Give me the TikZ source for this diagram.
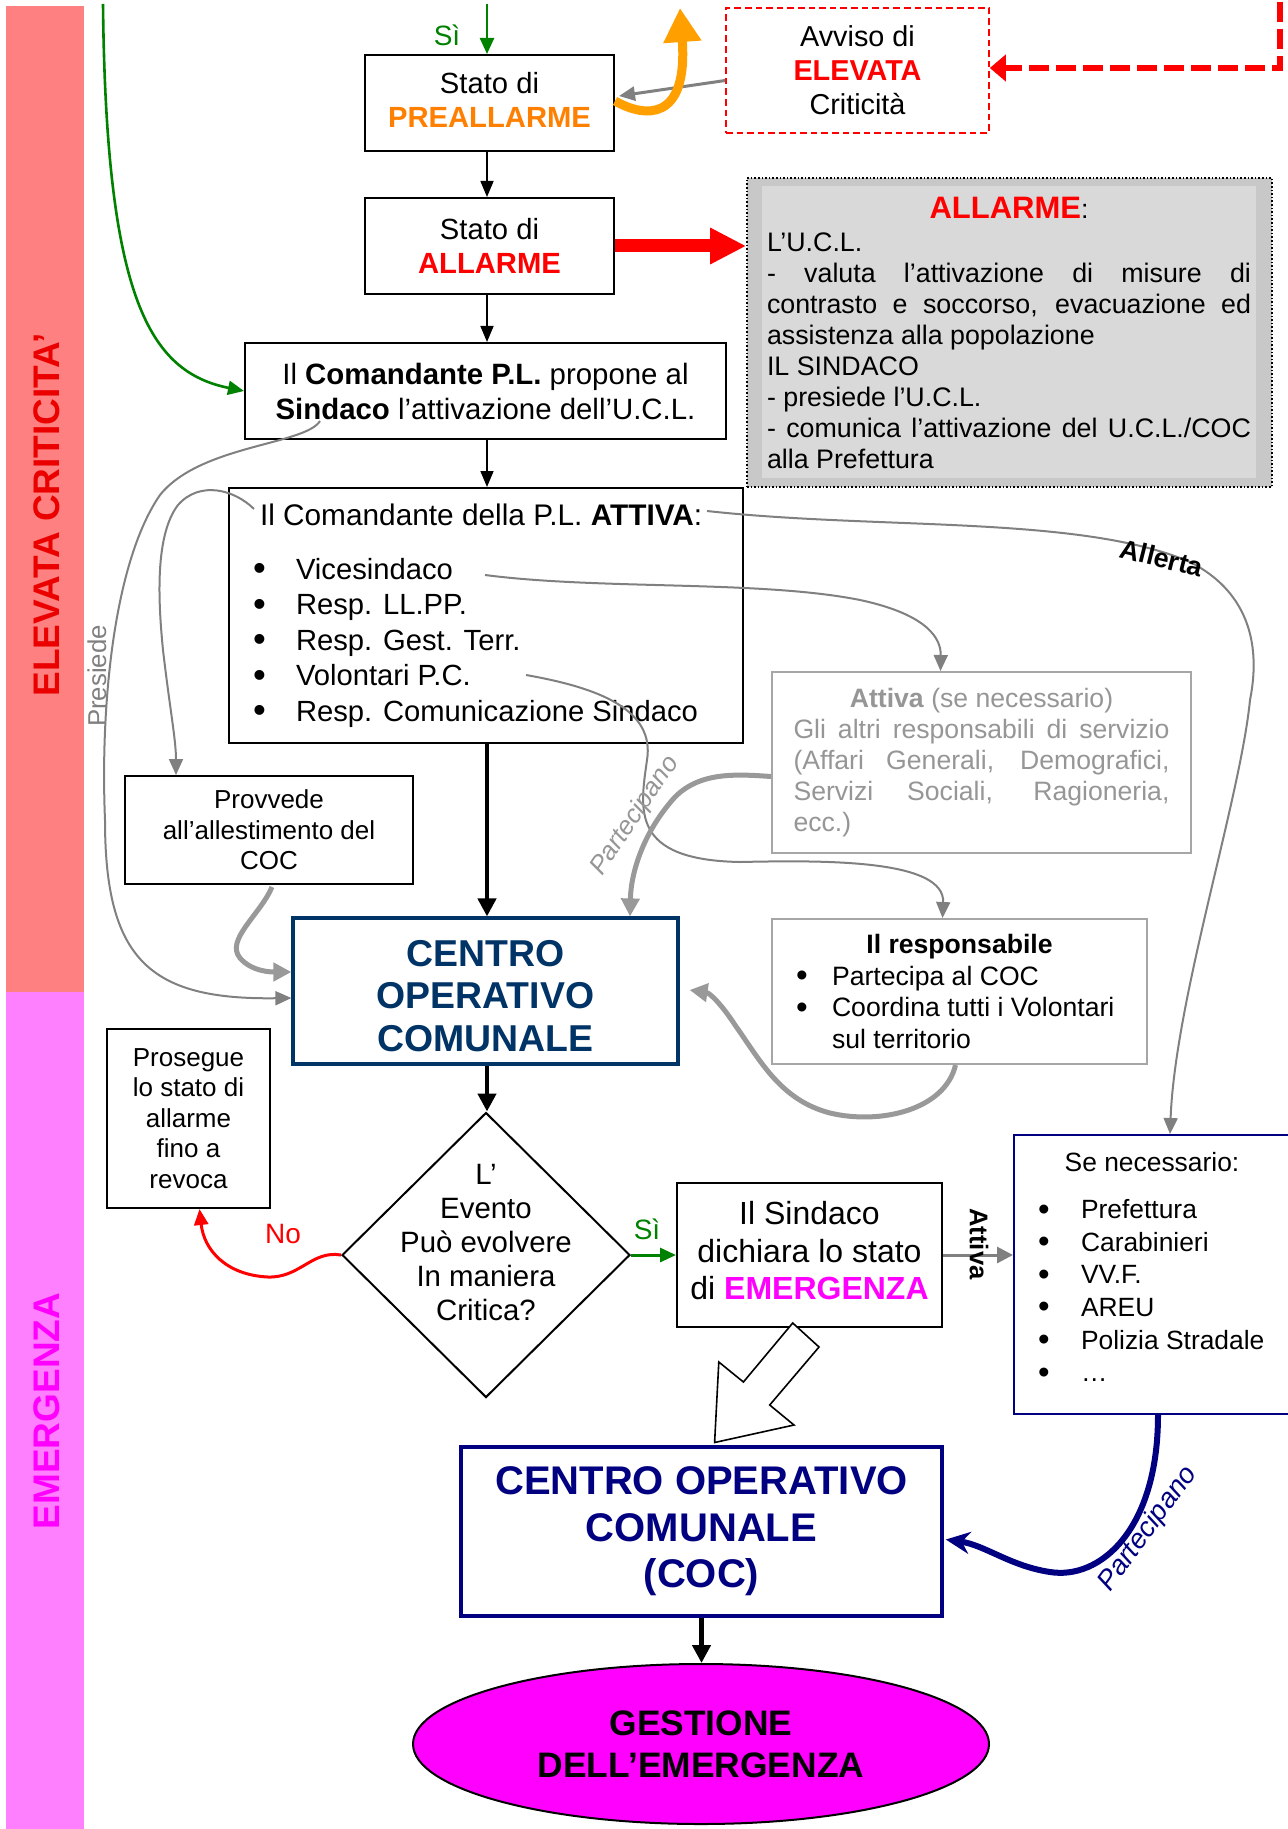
\documentclass[tikz,border=0pt]{standalone}
\usepackage{fontspec}
\usepackage{graphicx}
\setmainfont{Liberation Sans}
\usetikzlibrary{arrows.meta,calc,shapes.geometric}
\newcommand\fsz[2]{\fontsize{#1}{#2}\selectfont}
\newcommand\mybul[1]{\makebox[#1][l]{\raisebox{-0.7pt}{\scalebox{1.25}{\textbullet}}}}
\definecolor{salmonband}{RGB}{255,128,128}
\definecolor{pinkband}{RGB}{255,128,255}
\definecolor{critred}{RGB}{235,0,0}
\definecolor{magentax}{RGB}{255,0,255}
\definecolor{preorange}{RGB}{255,128,0}
\definecolor{arroworange}{RGB}{255,160,0}
\definecolor{darkgreen}{RGB}{0,130,0}
\definecolor{cocblue}{RGB}{0,51,102}
\definecolor{navyx}{RGB}{0,0,128}
\definecolor{linegray}{RGB}{128,128,128}
\definecolor{thickgray}{RGB}{153,153,153}
\definecolor{boxgray}{RGB}{166,166,166}
\definecolor{textgray}{RGB}{150,150,150}
\definecolor{panelout}{RGB}{200,200,200}
\definecolor{panelin}{RGB}{217,217,217}
\begin{document}
\begin{tikzpicture}[x=0.5pt,y=-0.5pt,
  box/.style={draw=black, line width=1pt, inner sep=0pt, align=center},
  grayarrow/.style={draw=linegray, line width=1pt, -{Triangle[length=8pt,width=7pt]}},
  thickgrayarrow/.style={draw=thickgray, line width=2.5pt, -{Triangle[length=9pt,width=9pt]}},
  blackarrow/.style={draw=black, line width=0.8pt, -{Triangle[length=8pt,width=6.5pt]}},
  thickblack/.style={draw=black, line width=2.2pt, -{Triangle[length=9pt,width=9pt]}},
  greenarrow/.style={draw=darkgreen, line width=1.2pt, -{Triangle[length=8pt,width=7pt]}}
]
\path[use as bounding box, fill=white] (0,0) rectangle (1288,1829);

% side bands
\fill[salmonband] (6,6) rectangle (84,992);
\fill[pinkband] (6,992) rectangle (84,1829);
\node[rotate=90, font=\bfseries\fsz{18.5}{20}, text=critred] (bandtop) at (47,515) {ELEVATA CRITICITA’};
\node[rotate=90, font=\bfseries\fsz{18.5}{20}, text=magentax] (bandbot) at (47,1411) {EMERGENZA};

% boxes
\node[box, minimum width=124.5pt, minimum height=48pt] (pre) at (489.5,103) {};
\node[align=center, inner sep=0, font=\fsz{14.6}{17}] (pretext) at (489.5,100) {Stato di\\\textcolor{preorange}{\bfseries PREALLARME}};
\node[draw=red, dash pattern=on 3.3pt off 2pt, line width=0.8pt, inner sep=0, align=center, minimum width=131.5pt, minimum height=62.5pt, font=\fsz{14.4}{17}] (avviso) at (857.5,70.5) {Avviso di\\\textcolor{red}{\bfseries ELEVATA}\\Criticità};
\node[box, minimum width=124.5pt, minimum height=48pt, font=\fsz{14.6}{17}] (allarme) at (489.5,246) {Stato di\\\textcolor{red}{\bfseries ALLARME}};

\node[draw=black, densely dotted, line width=0.8pt, fill=panelout, minimum width=262.5pt, minimum height=154.5pt, inner sep=0] (graybox) at (1009.5,332.5) {};
\fill[panelin] ($(graybox.north west)+(16,9)$) rectangle ($(graybox.south east)+(-17,-10)$);
\node[inner sep=0] (graytext) at (1009,332.5) {\parbox{242pt}{\fsz{13.4}{15.5}%
{\centering\textcolor{red}{\bfseries\fsz{15.5}{16.75}ALLARME}:\par}
\vspace{1pt}L’U.C.L.\par
- valuta l’attivazione di misure di\linebreak contrasto e soccorso, evacuazione ed\linebreak assistenza alla popolazione\par
IL SINDACO\par
- presiede l’U.C.L.\par
- comunica l’attivazione del U.C.L./COC\linebreak alla Prefettura}};

\node[box, minimum width=240.5pt, minimum height=48pt, font=\fsz{14.7}{17.5}] (coman) at (485.5,391) {Il \textbf{Comandante P.L.} propone al\\\textbf{Sindaco} l’attivazione dell’U.C.L.};

\node[box, minimum width=257pt, minimum height=127.5pt] (attiva) at (486,615.5) {\parbox{233pt}{\raggedright\fsz{14.6}{17.75}%
\hspace*{3.5pt}{\fsz{14.9}{17.75}Il Comandante della P.L. \textbf{ATTIVA}:}\par\vspace{9.25pt}
\mybul{21.5pt}Vicesindaco\\
\mybul{21.5pt}Resp. LL.PP.\\
\mybul{21.5pt}Resp. Gest. Terr.\\
\mybul{21.5pt}Volontari P.C.\\
\mybul{21.5pt}Resp. Comunicazione Sindaco}};

\node[box, minimum width=144pt, minimum height=54pt, font=\fsz{13}{15.25}] (provv) at (269,830) {Provvede\\all’allestimento del\\COC};

\node[draw=cocblue, line width=1.6pt, inner sep=0, minimum width=192.5pt, minimum height=73pt] (coc1) at (485.5,991) {};
\node[align=center, inner sep=0, text=cocblue, font=\bfseries\fsz{18.7}{21.25}] (coc1text) at (485.5,996) {CENTRO\\OPERATIVO\\COMUNALE};

\node[draw=boxgray, line width=1pt, inner sep=0, minimum width=209.5pt, minimum height=90.5pt] (attsec) at (981.5,762.5) {\parbox{188pt}{\fsz{13.3}{15.5}\color{textgray}%
{\centering\textbf{Attiva} (se necessario)\par}
Gli altri responsabili di servizio\linebreak (Affari Generali, Demografici,\linebreak Servizi Sociali, Ragioneria,\linebreak ecc.)}};

\node[draw=boxgray, line width=1pt, inner sep=0, minimum width=187.5pt, minimum height=72.5pt] (resp) at (959.5,991.5) {\parbox{163.5pt}{\raggedright\fsz{13.3}{15.75}%
{\centering\bfseries Il responsabile\par}
\mybul{18pt}Partecipa al COC\\
\mybul{18pt}Coordina tutti i Volontari\\
\hspace*{18pt}sul territorio}};

\node[box, minimum width=81.5pt, minimum height=89.5pt, font=\fsz{13}{15.3}] (proseg) at (188.5,1118.5) {Prosegue\\lo stato di\\allarme\\fino a\\revoca};

\node[draw=black, diamond, line width=1pt, inner sep=0, minimum width=144pt, minimum height=142.5pt] (dia) at (486,1255) {};
\node[align=center, inner sep=0, font=\fsz{14.7}{17}] (diatext) at (486,1243) {L’\\Evento\\Può evolvere\\In maniera\\Critica?};

\node[box, minimum width=132.5pt, minimum height=72pt] (sind) at (809.5,1255) {};
\node[align=center, inner sep=0, font=\fsz{16}{18.75}] (sindtext) at (809.5,1251) {Il Sindaco\\dichiara lo stato\\di \textcolor{magentax}{\bfseries EMERGENZA}};

\node[draw=navyx, line width=1pt, inner sep=0, minimum width=138pt, minimum height=139.5pt] (senec) at (1152,1274.5) {\parbox{124pt}{\raggedright\fsz{13.2}{16.3}%
{\centering Se necessario:\par}\vspace{7.5pt}
\hspace*{5pt}\mybul{21.5pt}Prefettura\\
\hspace*{5pt}\mybul{21.5pt}Carabinieri\\
\hspace*{5pt}\mybul{21.5pt}VV.F.\\
\hspace*{5pt}\mybul{21.5pt}AREU\\
\hspace*{5pt}\mybul{21.5pt}Polizia Stradale\\
\hspace*{5pt}\mybul{21.5pt}…\par\vspace{7pt}}};

\node[draw=navyx, line width=1.8pt, inner sep=0, align=center, minimum width=240.5pt, minimum height=84.5pt, text=navyx, font=\bfseries\fsz{20}{23.3}] (coc2) at (701.5,1531.5) {CENTRO OPERATIVO\\COMUNALE\\(COC)};

\node[ellipse, draw=black, line width=1pt, fill=magentax, minimum width=288pt, minimum height=80pt, inner sep=0, align=center, font=\bfseries\fsz{17.7}{21}] (gest) at (701,1744) {GESTIONE\\DELL’EMERGENZA};

% big hollow arrow
\draw[line width=0.8pt, fill=white] (792.7,1323) -- (819,1347) -- (769.7,1405) -- (794,1425) -- (714.6,1442.5) -- (718.8,1362) -- (743.4,1382) -- cycle;

% connectors
\coordinate (topin) at (487,4);
\draw[greenarrow] (topin) -- (topin |- pre.north);
\node[text=darkgreen, font=\fsz{14}{16}] (si1) at (447,35) {Sì};

\coordinate (greenstart) at (103,4);
\draw[greenarrow, line width=1.3pt] (greenstart) .. controls (106,300) and (150,372) .. (coman.west);

\coordinate (redtop) at (1280,2);
\coordinate (redcorner) at (1280,68);
\draw[red, line width=3pt, dash pattern=on 10pt off 3.5pt, -{Triangle[length=8pt,width=13pt]}] (redtop) -- (redcorner) -- (redcorner -| avviso.east);

\draw[draw=linegray, line width=1.5pt, -{Triangle[length=8pt,width=7pt]}] ($(avviso.west)+(0,10)$) -- ($(pre.east)+(4,-7)$);

\coordinate (orangetip) at (680,8);
\draw[draw=arroworange, line width=4.5pt, -{Triangle[length=17pt,width=18pt]}] ($(pre.east)+(0,-2)$) .. controls (645,118) and (688,122) .. (orangetip);

\draw[draw=red, line width=6.5pt, -{Triangle[length=18pt,width=17pt]}] (allarme.east) -- (allarme.east -| graybox.west);

\coordinate (colx) at (487,0);
\draw[blackarrow] (colx |- pre.south) -- (colx |- allarme.north);
\draw[blackarrow] (colx |- allarme.south) -- (colx |- coman.north);
\draw[blackarrow] (colx |- coman.south) -- (colx |- attiva.north);
\draw[thickblack] (colx |- attiva.south) -- (colx |- coc1.north);
\draw[thickblack] (colx |- coc1.south) -- (colx |- dia.north);
\draw[greenarrow, line width=1.5pt] (dia.east) -- (dia.east -| sind.west);
\node[text=darkgreen, font=\fsz{14}{16}] (si2) at (647,1229) {Sì};

\coordinate (noend) at ($(proseg.south)+(11,0)$);
\draw[draw=red, line width=1.5pt, -{Triangle[length=8pt,width=7pt]}] (dia.west) .. controls (312,1250) and (300,1278) .. (268,1277) .. controls (226,1275) and (204,1250) .. (noend);
\node[text=red, font=\fsz{14}{16}] (lno) at (283,1234) {No};

\draw[draw=linegray, line width=1.5pt, -{Triangle[length=8pt,width=8pt]}] (sind.east) -- (sind.east -| senec.west);
\node[font=\bfseries\fsz{12.8}{15}, rotate=-90] (lattiva) at (979,1244) {Attiva};

\draw[thickblack] (coc2.south) -- (coc2.south |- gest.north);

\draw[draw=navyx, line width=3pt, -{Stealth[length=12pt,width=11pt]}] ($(senec.south)+(6,0)$) .. controls (1158,1530) and (1100,1580) .. (1050,1572) .. controls (1010,1566) and (985,1545) .. ($(coc2.east)+(2,8)$);
\node[font=\itshape\fsz{13.8}{15}, text=navyx, rotate=54] (lpart2) at (1148,1529) {Partecipano};

\coordinate (allertastart) at ($(attiva.north west)+(479,24)$);
\draw[grayarrow] (allertastart) .. controls (880,530) and (1080,515) .. (1190,562) .. controls (1245,590) and (1262,640) .. (1250,700) .. controls (1240,800) and (1175,1000) .. ($(senec.north)+(18,0)$);
\node[font=\bfseries\fsz{13.5}{15}, rotate=-14] (lallerta) at (1162,558) {Allerta};

\coordinate (vicestart) at ($(attiva.north west)+(257,88)$);
\draw[grayarrow] (vicestart) .. controls (600,590) and (760,580) .. (860,600) .. controls (930,615) and (941,640) .. ($(attsec.north)+(-41,0)$);

\coordinate (volstart) at ($(attiva.north west)+(298,188)$);
\draw[grayarrow] (volstart) .. controls (600,688) and (655,710) .. (647,760) .. controls (640,810) and (630,860) .. (740,862) .. controls (830,860) and (945,860) .. ($(resp.north)+(-17,0)$);
\node[font=\itshape\fsz{12.9}{15}, text=textgray, rotate=56] (lpart1) at (635,816) {Partecipano};

\draw[thickgrayarrow] ($(attsec.west)+(0,14)$) .. controls (735,774) and (700,772) .. (675,797) .. controls (645,830) and (631,870) .. ($(coc1.north)+(144.5,0)$);

\draw[thickgrayarrow] ($(provv.south)+(3,2)$) .. controls (260,915) and (225,940) .. (240,958) .. controls (252,972) and (272,972) .. ($(coc1.west)+(0,-19)$);

\coordinate (presstart) at ($(coman.south west)+(76,-19)$);
\draw[grayarrow] (presstart) .. controls (305,445) and (200,445) .. (160,495) .. controls (115,560) and (100,700) .. (105,820) .. controls (105,960) and (150,1000) .. ($(coc1.west)+(0,7)$);
\node[font=\fsz{12.9}{15}, text=linegray, rotate=90] (lpres) at (97,676) {Presiede};

\coordinate (ilstart) at ($(attiva.north west)+(26,22)$);
\draw[grayarrow] (ilstart) .. controls (235,490) and (200,480) .. (178,505) .. controls (155,535) and (158,600) .. (163,650) .. controls (170,710) and (176,740) .. ($(provv.north)+(-93,0)$);

\draw[thickgrayarrow] ($(resp.south)+(-4,0)$) .. controls (945,1110) and (880,1125) .. (830,1113) .. controls (780,1100) and (760,1060) .. (735,1025) .. controls (722,1005) and (710,993) .. ($(coc1.east)+(10,-1)$);
\end{tikzpicture}
\end{document}
